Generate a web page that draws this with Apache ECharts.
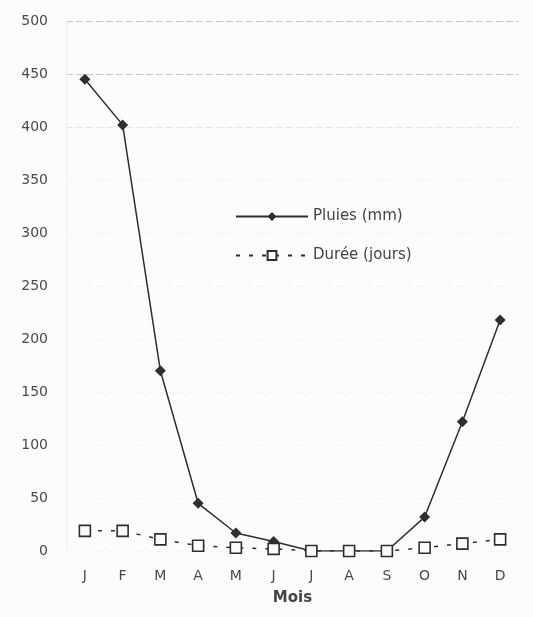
<!DOCTYPE html>
<html>
<head>
<meta charset="utf-8">
<script src="https://cdn.jsdelivr.net/npm/echarts@6/dist/echarts.min.js"></script>
<style>
  html, body { margin: 0; padding: 0; background: #fcfcfb; }
  #chart { width: 533px; height: 617px; }
</style>
</head>
<body>
<div id="chart"></div>
<script>
// Monthly rainfall and number of rainy days
const months = ['J', 'F', 'M', 'A', 'M', 'J', 'J', 'A', 'S', 'O', 'N', 'D'];
const pluies = [445, 402, 170, 45, 17, 9, 0, 0, 0, 32, 122, 218];
const duree = [19, 19, 11, 5, 3, 2, 0, 0, 0, 3, 7, 11];
const yTicks = { min: 0, max: 500, interval: 50 };

const ink = '#2e2e2e';
const labelColor = '#4a4a4a';
const font = 'DejaVu Sans, Verdana, sans-serif';

// gridlines fade out towards the bottom of the plot; the top two are strongest
const gridColors = ['#f4f4f4', '#f4f4f4', '#f4f4f4', '#f4f4f4', '#f4f4f4', '#f4f4f4',
  '#f2f2f2', '#f2f2f2', '#e6e6e6', '#c8c8c8', '#c8c8c8'];

const chart = echarts.init(document.getElementById('chart'));
chart.setOption({
  backgroundColor: '#fcfcfb',
  animation: false,
  grid: { left: 66, right: 14, top: 21, bottom: 66 },
  legend: {
    orient: 'vertical',
    left: 230,
    top: 204,
    itemWidth: 72,
    itemHeight: 11,
    itemGap: 24,
    textStyle: { fontFamily: font, fontSize: 15, color: '#444' },
    data: ['Pluies (mm)', 'Durée (jours)']
  },
  xAxis: {
    type: 'category',
    data: months,
    boundaryGap: true,
    name: 'Mois',
    nameLocation: 'middle',
    nameGap: 40,
    nameTextStyle: { fontFamily: font, fontSize: 15, fontWeight: 'bold', color: '#444' },
    axisLine: { show: false },
    axisTick: { show: false },
    axisLabel: { fontFamily: font, fontSize: 14, color: labelColor, margin: 18 }
  },
  yAxis: {
    type: 'value',
    min: yTicks.min,
    max: yTicks.max,
    interval: yTicks.interval,
    axisLine: { show: true, lineStyle: { color: '#eeeeee', width: 1 } },
    axisTick: { show: false },
    axisLabel: { fontFamily: font, fontSize: 14, color: labelColor, margin: 18 },
    splitLine: { show: true, lineStyle: { color: gridColors, type: [7, 3], width: 1 } }
  },
  series: [
    {
      name: 'Pluies (mm)',
      type: 'line',
      data: pluies,
      symbol: 'diamond',
      symbolSize: 11,
      itemStyle: { color: ink },
      lineStyle: { color: ink, width: 1.5 },
      z: 2
    },
    {
      name: 'Durée (jours)',
      type: 'line',
      data: duree,
      symbol: 'rect',
      symbolSize: 11,
      itemStyle: { color: '#fcfcfb', borderColor: ink, borderWidth: 1.6 },
      lineStyle: { color: ink, width: 1.5, type: [4, 9] },
      z: 3
    }
  ]
});
</script>
</body>
</html>
